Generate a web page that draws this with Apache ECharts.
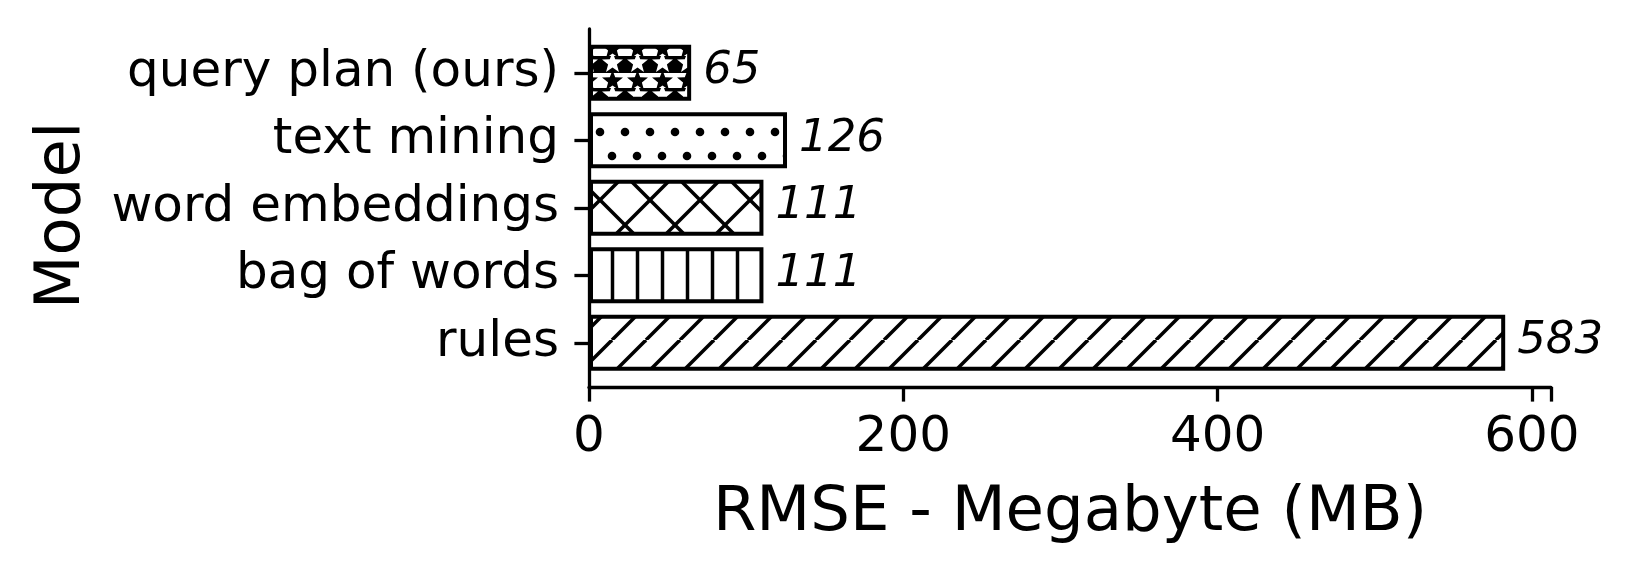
<!DOCTYPE html>
<html>
<head>
<meta charset="utf-8">
<script src="https://cdn.jsdelivr.net/npm/echarts@6/dist/echarts.min.js"></script>
<style>
  html, body { margin: 0; padding: 0; background: #fff; }
  #main { width: 1635px; height: 570px; }
</style>
</head>
<body>
<div id="main"></div>
<script>
// models, bottom to top as drawn
var models = ['rules', 'bag of words', 'word embeddings', 'text mining', 'query plan (ours)'];
var rmse = [583, 111, 111, 126, 65];
var hatches = ['/', '|', 'x', '.', '*'];
var xTicks = [0, 200, 400, 600];
var xMax = 612.15;

var FONT = 'DejaVu Sans';

// hatch tiles drawn on small canvases
function tile(w, h, draw) {
  var c = document.createElement('canvas');
  c.width = w; c.height = h;
  var ctx = c.getContext('2d');
  ctx.fillStyle = '#fff';
  ctx.fillRect(0, 0, w, h);
  ctx.strokeStyle = '#000';
  ctx.fillStyle = '#000';
  ctx.lineWidth = 3.5;
  draw(ctx, w, h);
  return { image: c, repeat: 'repeat' };
}

function star(ctx, cx, cy, r) {
  ctx.beginPath();
  for (var i = 0; i < 10; i++) {
    var rr = i % 2 ? r * 0.42 : r;
    var a = -Math.PI / 2 + i * Math.PI / 5;
    var px = cx + rr * Math.cos(a), py = cy + rr * Math.sin(a);
    if (i === 0) ctx.moveTo(px, py); else ctx.lineTo(px, py);
  }
  ctx.closePath();
  ctx.fill();
}

function makeHatch(kind) {
  if (kind === '/') {
    return tile(34, 34, function (ctx, w, h) {
      for (var k = -1; k <= 1; k++) {
        ctx.beginPath(); ctx.moveTo(k * w, h); ctx.lineTo(k * w + w, 0); ctx.stroke();
      }
    });
  }
  if (kind === 'x') {
    return tile(50, 50, function (ctx, w, h) {
      for (var k = -1; k <= 1; k++) {
        ctx.beginPath(); ctx.moveTo(k * w, h); ctx.lineTo(k * w + w, 0); ctx.stroke();
        ctx.beginPath(); ctx.moveTo(k * w, 0); ctx.lineTo(k * w + w, h); ctx.stroke();
      }
    });
  }
  if (kind === '|') {
    return tile(25, 10, function (ctx, w, h) {
      ctx.beginPath(); ctx.moveTo(12.5, 0); ctx.lineTo(12.5, h); ctx.stroke();
    });
  }
  if (kind === '.') {
    return tile(25, 48, function (ctx) {
      ctx.beginPath(); ctx.arc(12, 12, 4.3, 0, Math.PI * 2); ctx.fill();
      ctx.beginPath(); ctx.arc(0, 36, 4.3, 0, Math.PI * 2); ctx.fill();
      ctx.beginPath(); ctx.arc(25, 36, 4.3, 0, Math.PI * 2); ctx.fill();
    });
  }
  // '*' dense stars
  return tile(25, 32, function (ctx, w, h) {
    ctx.fillStyle = '#000';
    ctx.fillRect(0, 0, w, h);
    ctx.fillStyle = '#fff';
    ctx.fillRect(0, 9, w, 15);
    star(ctx, 12.5, -1, 11);
    star(ctx, 12.5, 31, 11);
    ctx.fillStyle = '#000';
    star(ctx, 12.5, 17, 11);
  });
}

var barData = rmse.map(function (v, i) {
  return { value: v, itemStyle: { color: makeHatch(hatches[i]) } };
});

var chart = echarts.init(document.getElementById('main'), null, { renderer: 'canvas' });
chart.setOption({
  animation: false,
  backgroundColor: '#fff',
  textStyle: { fontFamily: FONT, color: '#000' },
  grid: [
    { left: 589, right: 84, top: 39, bottom: 193.5 },
    { left: 589, right: 84, top: 29, bottom: 183 }
  ],
  xAxis: [
    { type: 'value', gridIndex: 0, min: 0, max: xMax, show: false },
    {
      type: 'value', gridIndex: 1, min: 0, max: xMax, interval: 200,
      name: 'RMSE - Megabyte (MB)', nameLocation: 'middle', nameGap: 95,
      nameTextStyle: { fontFamily: FONT, fontSize: 62.5, color: '#000' },
      axisLine: { show: true, lineStyle: { color: '#000', width: 3.3 } },
      axisTick: { show: true, length: 14.6, lineStyle: { color: '#000', width: 3.3 } },
      axisLabel: {
        margin: 26, fontFamily: FONT, fontSize: 50, color: '#000',
        formatter: function (v) { return xTicks.indexOf(v) >= 0 ? String(v) : ''; }
      },
      splitLine: { show: false }
    }
  ],
  yAxis: [
    {
      type: 'category', gridIndex: 0, data: models,
      axisLine: { show: false },
      axisTick: { show: true, alignWithLabel: true, length: 14.6, lineStyle: { color: '#000', width: 3.3 } },
      axisLabel: { margin: 30, fontFamily: FONT, fontSize: 50, color: '#000', padding: [10, 0, 0, 0] },
      splitLine: { show: false }
    },
    {
      type: 'value', gridIndex: 1, min: 0, max: 1,
      name: 'Model', nameLocation: 'middle', nameGap: 495,
      nameTextStyle: { fontFamily: FONT, fontSize: 62.5, color: '#000', padding: [0, 15, 0, 0] },
      axisLine: { show: true, lineStyle: { color: '#000', width: 3.3 } },
      axisTick: { show: false },
      axisLabel: { show: false },
      splitLine: { show: false }
    }
  ],
  series: [
    {
      type: 'bar', xAxisIndex: 0, yAxisIndex: 0,
      data: barData,
      barWidth: 56,
      itemStyle: { borderColor: '#000', borderWidth: 4 },
      label: {
        show: true, position: 'right', distance: 12, offset: [0, -1],
        fontFamily: FONT, fontStyle: 'italic', fontSize: 45, color: '#000',
        formatter: '{c}'
      }
    }
  ]
});
</script>
</body>
</html>
